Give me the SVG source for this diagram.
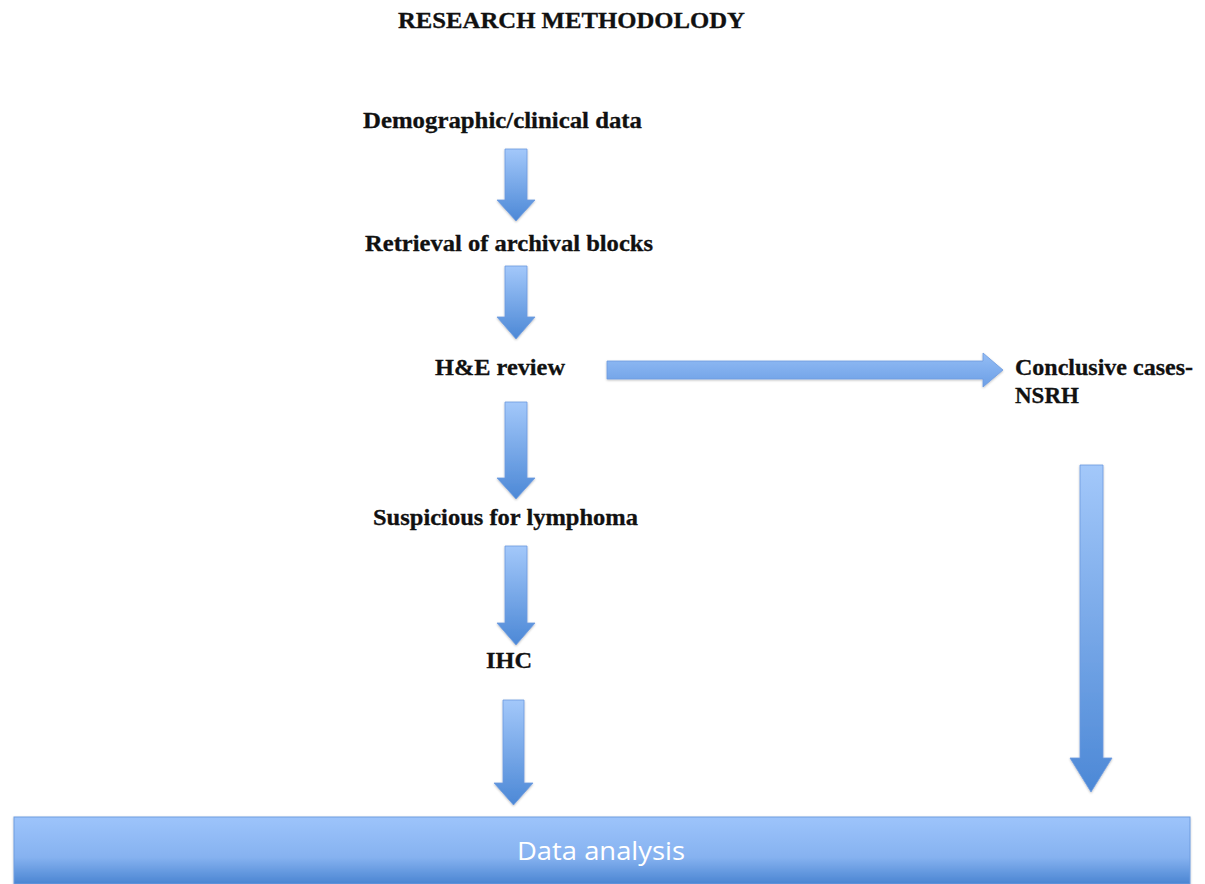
<svg xmlns="http://www.w3.org/2000/svg" width="1205" height="884" viewBox="0 0 1205 884">
<style>
.lbl{font-family:"Liberation Serif","Times New Roman",serif;font-weight:bold;font-size:23px;fill:#111;stroke:#111;stroke-width:0.3;}
.arr{fill:url(#gv);stroke:#6d9be0;stroke-width:0.8;filter:url(#sh);}
</style>
<defs>
<linearGradient id="gv" x1="0" y1="0" x2="0" y2="1">
<stop offset="0" stop-color="#a3c8fa"/>
<stop offset="1" stop-color="#4c88d6"/>
</linearGradient>
<linearGradient id="gh" x1="0" y1="0" x2="0" y2="1">
<stop offset="0" stop-color="#94bdf5"/>
<stop offset="1" stop-color="#6c9fe6"/>
</linearGradient>
<linearGradient id="gb" x1="0" y1="0" x2="0" y2="1">
<stop offset="0" stop-color="#9dc4fb"/>
<stop offset="0.6" stop-color="#86b2f0"/>
<stop offset="1" stop-color="#4a85d2"/>
</linearGradient>
<filter id="sh" x="-20%" y="-20%" width="140%" height="140%">
<feDropShadow dx="0" dy="1" stdDeviation="1" flood-color="#000" flood-opacity="0.25"/>
</filter>
</defs>

<text x="398" y="28" class="lbl" textLength="347" lengthAdjust="spacingAndGlyphs">RESEARCH METHODOLODY</text>

<g id="connectors">
<path class="arr" d="M505,149 H527 V200 H535 L516,221 L497,200 H505 Z"/>
<path class="arr" d="M505,266 H527 V317 H535 L516,339 L497,317 H505 Z"/>
<path class="arr" d="M505,402 H527 V478 H535 L516,499 L497,478 H505 Z"/>
<path class="arr" d="M505,546 H527 V623 H535 L516,645 L497,623 H505 Z"/>
<path class="arr" d="M503,700 H524 V783 H533 L513.5,805 L494,783 H503 Z"/>
<path class="arr" style="fill:url(#gh)" d="M607,361 H983 V353 L1003,370 L983,387 V379 H607 Z"/>
<path class="arr" d="M1080,465 H1103 V758 H1112 L1091,792 L1070,758 H1080 Z"/>
</g>

<g id="n-demographic"><text x="363" y="128" class="lbl" textLength="279" lengthAdjust="spacingAndGlyphs">Demographic/clinical data</text></g>
<g id="n-retrieval"><text x="365" y="251" class="lbl" textLength="288" lengthAdjust="spacingAndGlyphs">Retrieval of archival blocks</text></g>
<g id="n-he"><text x="435" y="375" class="lbl" textLength="130" lengthAdjust="spacingAndGlyphs">H&amp;E review</text></g>
<g id="n-conclusive"><text x="1015" y="375" class="lbl" textLength="178" lengthAdjust="spacingAndGlyphs">Conclusive cases-</text><text x="1015" y="403" class="lbl">NSRH</text></g>
<g id="n-suspicious"><text x="373" y="525" class="lbl" textLength="265" lengthAdjust="spacingAndGlyphs">Suspicious for lymphoma</text></g>
<g id="n-ihc"><text x="486" y="668" class="lbl" textLength="46" lengthAdjust="spacingAndGlyphs">IHC</text></g>
<g id="n-data">
<rect x="14" y="817" width="1176" height="67" fill="url(#gb)" stroke="#6f9de0" stroke-width="1" filter="url(#sh)"/>
<text x="601" y="860" text-anchor="middle" font-family="Open Sans, Liberation Sans, sans-serif" font-size="26" fill="#ffffff" textLength="168" lengthAdjust="spacingAndGlyphs">Data analysis</text>
</g>
</svg>
